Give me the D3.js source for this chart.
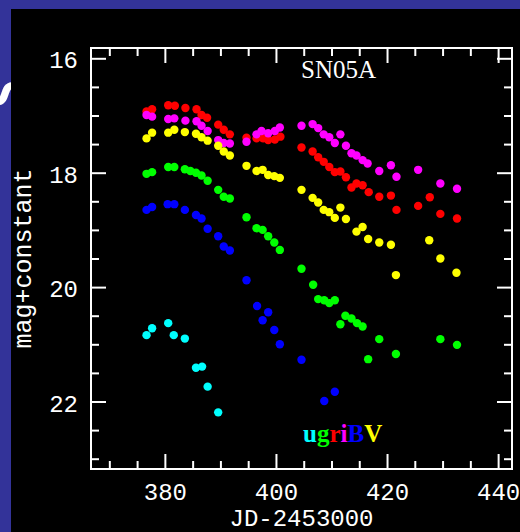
<!DOCTYPE html>
<html>
<head>
<meta charset="utf-8">
<script src="https://cdn.jsdelivr.net/npm/d3@7"></script>
<style>
  html, body { margin: 0; padding: 0; background: #333399; }
  svg { display: block; }
</style>
</head>
<body>
<svg id="chart" width="520" height="532"></svg>
<script>
// SN 2005A light curves: [JD-2453000, magnitude + constant] per filter
const uPoints = [[376.7,20.84],[377.7,20.72],[380.6,20.63],[381.6,20.84],[383.6,20.90],[385.6,21.41],[386.7,21.39],[387.7,21.74],[389.6,22.19]];
const gPoints = [[376.7,18.02],[377.7,17.99],[380.6,17.90],[381.7,17.90],[383.6,17.94],[384.6,17.97],[385.6,18.00],[386.6,18.05],[387.7,18.14],[389.6,18.30],[390.6,18.42],[391.7,18.45],[394.7,18.78],[396.5,18.97],[397.6,19.00],[398.6,19.11],[399.7,19.22],[400.7,19.35],[404.6,19.68],[406.7,19.96],[407.6,20.21],[408.7,20.23],[409.6,20.28],[410.6,20.23],[411.6,20.65],[412.5,20.50],[413.6,20.55],[414.6,20.63],[415.6,20.69],[416.6,21.26],[418.6,20.91],[421.6,21.17],[429.6,20.91],[432.6,21.01]];
const rPoints = [[376.7,16.93],[377.7,16.89],[380.6,16.82],[381.8,16.83],[383.7,16.87],[385.7,16.89],[386.6,16.99],[387.6,17.04],[389.6,17.16],[390.6,17.25],[391.7,17.33],[394.7,17.39],[396.5,17.40],[397.7,17.40],[398.6,17.43],[399.8,17.42],[400.8,17.37],[404.6,17.56],[406.6,17.63],[407.6,17.73],[408.6,17.81],[409.6,17.90],[410.6,17.99],[411.6,17.98],[412.6,18.08],[413.6,18.26],[414.5,18.19],[415.6,18.22],[416.7,18.34],[418.6,18.42],[420.7,18.40],[421.7,18.65],[425.6,18.58],[427.7,18.43],[429.6,18.72],[432.6,18.80]];
const iPoints = [[376.7,16.99],[377.7,17.02],[380.6,17.06],[381.7,17.05],[383.7,17.09],[385.7,17.10],[386.6,17.18],[387.7,17.27],[389.6,17.43],[390.6,17.48],[391.7,17.49],[394.7,17.46],[396.5,17.33],[397.4,17.27],[398.6,17.31],[399.8,17.27],[400.7,17.21],[404.6,17.18],[406.6,17.15],[407.6,17.22],[408.6,17.33],[409.6,17.38],[410.6,17.48],[411.6,17.33],[412.6,17.53],[413.6,17.66],[414.5,17.70],[415.6,17.78],[416.5,17.84],[418.6,17.97],[420.7,17.87],[421.7,18.07],[425.6,17.95],[429.6,18.19],[432.6,18.28]];
const bPoints = [[376.7,18.65],[377.7,18.60],[380.5,18.55],[381.7,18.55],[383.6,18.65],[385.6,18.74],[386.6,18.80],[387.7,18.98],[389.6,19.11],[390.6,19.29],[391.7,19.36],[394.7,19.88],[396.6,20.33],[397.6,20.58],[398.6,20.44],[399.7,20.75],[400.7,21.00],[404.6,21.27],[408.7,21.99],[410.6,21.83]];
const vPoints = [[376.7,17.40],[377.7,17.30],[380.6,17.30],[381.7,17.25],[383.6,17.29],[385.6,17.32],[386.6,17.38],[387.7,17.44],[389.6,17.53],[390.6,17.63],[391.7,17.70],[394.7,17.88],[396.5,17.97],[397.6,17.95],[398.6,18.04],[399.7,18.06],[400.7,18.09],[404.6,18.30],[406.6,18.44],[407.6,18.52],[408.6,18.65],[409.6,18.69],[410.6,18.79],[411.6,18.61],[412.6,18.81],[414.5,19.03],[415.6,18.95],[416.6,19.16],[418.6,19.22],[420.7,19.26],[421.6,19.79],[427.6,19.18],[429.6,19.50],[432.5,19.75]];

const filterNames = ["u", "g", "r", "i", "B", "V"];
const filterColors = ["#00ffff", "#00ff00", "#ff0000", "#ff00ff", "#0000ff", "#ffff00"];
const filterPoints = [uPoints, gPoints, rPoints, iPoints, bPoints, vPoints];

const xMajorTicks = [380, 400, 420, 440];
const xMinorTicks = [370, 375, 385, 390, 395, 405, 410, 415, 425, 430, 435];
const yMajorTicks = [16, 18, 20, 22];
const yMinorTicks = [16.5, 17, 17.5, 18.5, 19, 19.5, 20.5, 21, 21.5, 22.5, 23];

const titleText = "SN05A";
const xLabel = "JD-2453000";
const yLabel = "mag+constant";

const svg = d3.select("#chart");
const W = 520, H = 532;
const plotL = 91, plotR = 512, plotT = 48, plotB = 469;

// backdrop: blue slide edge with the black plot panel
svg.append("rect").attr("width", W).attr("height", H).attr("fill", "#333399");
svg.append("rect").attr("x", 11).attr("y", 9).attr("width", W - 11).attr("height", H - 9).attr("fill", "#000");

// edge of the slide lettering peeking in at the left
svg.append("defs").append("clipPath").attr("id", "edgeClip")
  .append("rect").attr("x", 0).attr("y", 0).attr("width", 11).attr("height", H);
svg.append("g").attr("clip-path", "url(#edgeClip)")
  .append("text")
  .attr("transform", "translate(22,94) rotate(-90)")
  .attr("text-anchor", "middle")
  .attr("font-family", "Liberation Serif")
  .attr("font-weight", "bold")
  .attr("font-size", 50)
  .attr("fill", "#fff")
  .text("S");

const x = d3.scaleLinear().domain([366.7, 442.5]).range([plotL, plotR]);
const y = d3.scaleLinear().domain([15.82, 23.18]).range([plotT, plotB]);

const tickFont = "Liberation Mono";

function styleAxis(g) {
  g.select(".domain").remove();
  g.selectAll(".tick line").attr("stroke", "#fff").attr("stroke-width", 2);
  g.selectAll("text").attr("fill", "#fff").attr("font-family", tickFont).attr("font-size", 24);
}

// bottom axis with labels
svg.append("g").attr("transform", `translate(0,${plotB})`)
  .call(d3.axisBottom(x).tickValues(xMajorTicks).tickSize(-15).tickFormat(d3.format("d")))
  .call(styleAxis)
  .call(g => g.selectAll("text").attr("y", 30.5).attr("dy", null));
svg.append("g").attr("transform", `translate(0,${plotB})`)
  .call(d3.axisBottom(x).tickValues(xMinorTicks).tickSize(-8).tickFormat(""))
  .call(styleAxis);
// top axis, ticks only
svg.append("g").attr("transform", `translate(0,${plotT})`)
  .call(d3.axisTop(x).tickValues(xMajorTicks).tickSize(-15).tickFormat(""))
  .call(styleAxis);
svg.append("g").attr("transform", `translate(0,${plotT})`)
  .call(d3.axisTop(x).tickValues(xMinorTicks).tickSize(-8).tickFormat(""))
  .call(styleAxis);

// left axis with labels
svg.append("g").attr("transform", `translate(${plotL},0)`)
  .call(d3.axisLeft(y).tickValues(yMajorTicks).tickSize(-15).tickFormat(d3.format("d")))
  .call(styleAxis)
  .call(g => g.selectAll("text").attr("x", -13).attr("dy", "0.4em"));
svg.append("g").attr("transform", `translate(${plotL},0)`)
  .call(d3.axisLeft(y).tickValues(yMinorTicks).tickSize(-8).tickFormat(""))
  .call(styleAxis);
// right axis, ticks only
svg.append("g").attr("transform", `translate(${plotR},0)`)
  .call(d3.axisRight(y).tickValues(yMajorTicks).tickSize(-15).tickFormat(""))
  .call(styleAxis);
svg.append("g").attr("transform", `translate(${plotR},0)`)
  .call(d3.axisRight(y).tickValues(yMinorTicks).tickSize(-8).tickFormat(""))
  .call(styleAxis);

// plot frame
svg.append("rect")
  .attr("x", plotL).attr("y", plotT)
  .attr("width", plotR - plotL).attr("height", plotB - plotT)
  .attr("fill", "none").attr("stroke", "#fff").attr("stroke-width", 2);

// light-curve points, one layer per filter
filterPoints.forEach((pts, k) => {
  svg.append("g")
    .selectAll("circle")
    .data(pts)
    .join("circle")
    .attr("cx", d => x(d[0]))
    .attr("cy", d => y(d[1]))
    .attr("r", 4.2)
    .attr("fill", filterColors[k]);
});

// title inside the frame
svg.append("text")
  .attr("x", 301).attr("y", 78)
  .attr("font-family", "Liberation Serif")
  .attr("font-size", 25)
  .attr("fill", "#fff")
  .text(titleText);

// axis titles
svg.append("text")
  .attr("x", (plotL + plotR) / 2).attr("y", 526)
  .attr("text-anchor", "middle")
  .attr("font-family", tickFont)
  .attr("font-size", 24)
  .attr("fill", "#fff")
  .text(xLabel);

svg.append("text")
  .attr("transform", `translate(31,${(plotT + plotB) / 2}) rotate(-90)`)
  .attr("text-anchor", "middle")
  .attr("font-family", tickFont)
  .attr("font-size", 25)
  .attr("fill", "#fff")
  .text(yLabel);

// filter key, each letter in its own colour
const key = svg.append("text")
  .attr("x", 303).attr("y", 441.5)
  .attr("font-family", "Liberation Serif")
  .attr("font-weight", "bold")
  .attr("font-size", 25);
key.selectAll("tspan")
  .data(filterNames)
  .join("tspan")
  .attr("fill", (d, k) => filterColors[k])
  .text(d => d);
</script>
</body>
</html>
